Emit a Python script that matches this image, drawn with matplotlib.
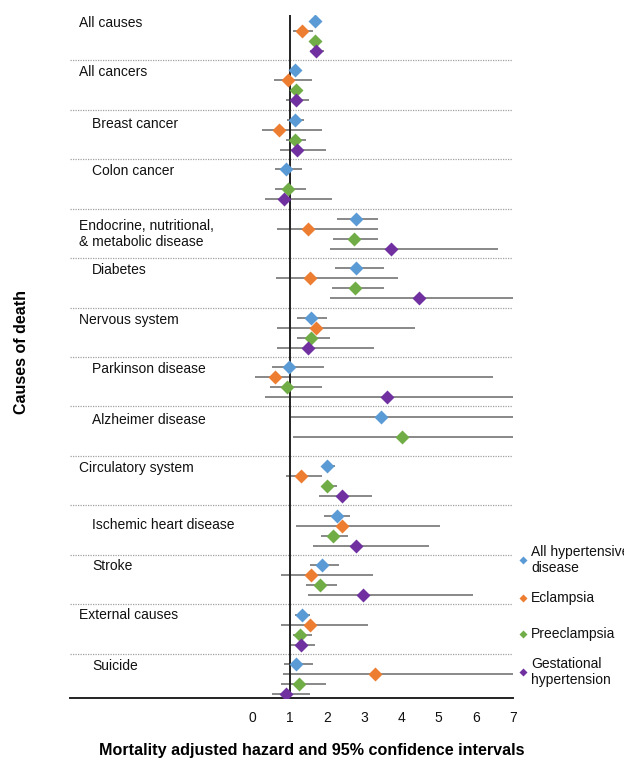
import numpy as np
import matplotlib
matplotlib.use("Agg")
import matplotlib.pyplot as plt
from matplotlib.lines import Line2D

plt.rcParams['font.family'] = ['Liberation Sans', 'DejaVu Sans']

nan = np.nan

causes = ["All causes", "All cancers", "Breast cancer", "Colon cancer",
          "Endocrine, nutritional,\n& metabolic disease", "Diabetes",
          "Nervous system", "Parkinson disease", "Alzheimer disease",
          "Circulatory system", "Ischemic heart disease", "Stroke",
          "External causes", "Suicide"]
indented = [False, False, True, True, False, True, False, True, True,
            False, True, True, False, True]

series = ["All hypertensive\ndisease", "Eclampsia", "Preeclampsia",
          "Gestational\nhypertension"]
colors = ["#5B9BD5", "#ED7D31", "#70AD47", "#7030A0"]

# hazard ratios, lower and upper 95% CI (8.0 = beyond the axis)
hr_all = [1.68, 1.15, 1.15, 0.90, 2.77, 2.79, 1.57, 0.99, 3.45, 2.01, 2.26, 1.88, 1.34, 1.18]
lo_all = [1.60, 1.08, 0.94, 0.62, 2.26, 2.23, 1.21, 0.53, 1.03, 1.90, 1.92, 1.56, 1.14, 0.84]
hi_all = [1.76, 1.22, 1.39, 1.34, 3.37, 3.53, 2.01, 1.92, 8.0, 2.21, 2.61, 2.32, 1.54, 1.63]

hr_ecl = [1.32, 0.96, 0.71, nan, 1.48, 1.54, 1.70, 0.61, nan, 1.30, 2.41, 1.57, 1.54, 3.28]
lo_ecl = [1.09, 0.58, 0.27, nan, 0.65, 0.63, 0.66, 0.07, nan, 0.90, 1.16, 0.78, 0.78, 0.81]
hi_ecl = [1.63, 1.60, 1.86, nan, 3.37, 3.91, 4.37, 6.47, nan, 1.87, 5.03, 3.24, 3.10, 8.0]

hr_pre = [1.68, 1.18, 1.15, 0.96, 2.72, 2.75, 1.57, 0.92, 4.01, 2.01, 2.17, 1.81, 1.29, 1.24]
lo_pre = [1.60, 1.10, 0.90, 0.62, 2.17, 2.14, 1.21, 0.47, 1.09, 1.86, 1.83, 1.45, 1.09, 0.78]
hi_pre = [1.77, 1.27, 1.43, 1.45, 3.37, 3.53, 2.08, 1.87, 8.0, 2.26, 2.57, 2.28, 1.60, 1.97]

hr_ges = [1.70, 1.18, 1.21, 0.85, 3.71, 4.47, 1.48, 3.61, nan, 2.41, 2.77, 2.97, 1.30, 0.90]
lo_ges = [1.54, 0.90, 0.74, 0.34, 2.08, 2.08, 0.66, 0.34, nan, 1.79, 1.63, 1.48, 1.03, 0.53]
hi_ges = [1.92, 1.51, 1.99, 2.13, 6.59, 8.0, 3.27, 8.0, nan, 3.21, 4.74, 5.92, 1.68, 1.54]

hrs = [hr_all, hr_ecl, hr_pre, hr_ges]
los = [lo_all, lo_ecl, lo_pre, lo_ges]
his = [hi_all, hi_ecl, hi_pre, hi_ges]

# label vertical offset inside each group (fraction of group)
label_off = [0.25, 0.25, 0.30, 0.25, 0.52, 0.24, 0.25, 0.25, 0.27,
             0.25, 0.40, 0.22, 0.22, 0.25]

fig = plt.figure(figsize=(6.24, 7.69), dpi=100)
ax = fig.add_axes([70/624, 1-698/769, 443/624, 683/769])

n = len(causes)
for j in range(4):
    ys = np.arange(n) + 0.2*(j+1) + 0.01
    hr = np.array(hrs[j]); lo = np.array(los[j]); hi = np.array(his[j])
    ok = ~np.isnan(hr)
    ax.hlines(ys[ok], lo[ok], hi[ok], color="#7f7f7f", lw=1.3, zorder=2)
    ax.plot(hr[ok], ys[ok], ls="none", marker="D", ms=7.2, color=colors[j],
            mec="none", zorder=4)

for i in range(1, n):
    ax.axhline(i, color="#a0a0a0", lw=0.9, ls=(0, (1, 1)), zorder=1)

ax.axvline(1, color="#222222", lw=1.4, zorder=3)

for i, c in enumerate(causes):
    x = -4.3 if indented[i] else -4.67
    ax.text(x, i + label_off[i], c, fontsize=10, va="center", ha="left",
            color="#111111", linespacing=1.15)

ax.set_xlim(-4.9, 7)
ax.set_ylim(13.89, 0.09)
ax.set_xticks(range(0, 8))
ax.set_yticks([])
ax.tick_params(axis="x", length=0, labelsize=10, pad=9, colors="#111111")
for s in ["top", "right", "left"]:
    ax.spines[s].set_visible(False)
ax.spines["bottom"].set_color("#222222")
ax.spines["bottom"].set_linewidth(1.4)

fig.text(22/624, 1-352/769, "Causes of death", rotation=90, fontsize=11.5,
         fontweight="bold", ha="center", va="center")
fig.text(312/624, 1-751/769, "Mortality adjusted hazard and 95% confidence intervals",
         fontsize=11.6, fontweight="bold", ha="center", va="center")

# legend drawn by hand so the rows sit where the original has them
leg_y = [560, 598, 634, 672]
for j, lab in enumerate(series):
    fy = 1 - leg_y[j]/769
    fig.add_artist(Line2D([523/624], [fy], transform=fig.transFigure, ls="none",
                          marker="D", ms=4.2, color=colors[j], mec="none"))
    fig.text(531/624, fy, lab, fontsize=10, va="center", ha="left",
             color="#111111", linespacing=1.1)

fig.savefig("out.png", dpi=100)
